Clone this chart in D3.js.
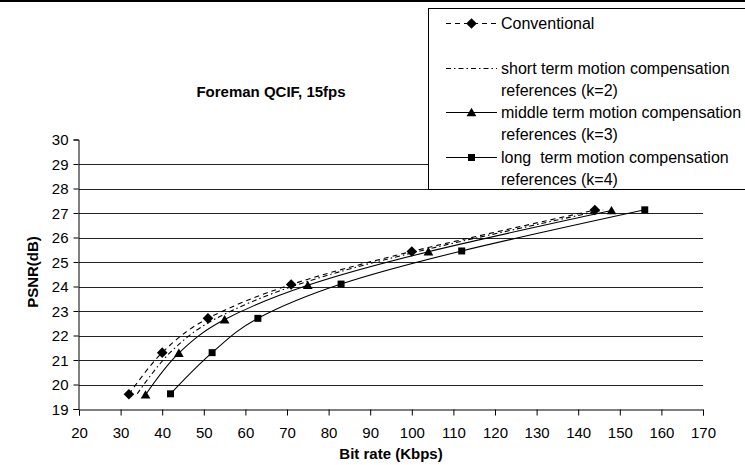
<!DOCTYPE html>
<html>
<head>
<meta charset="utf-8">
<script src="https://cdn.jsdelivr.net/npm/d3@7"></script>
<style>
  body { margin: 0; background: #fff; }
  svg text { font-family: "Liberation Sans", Arial, sans-serif; fill: #000; }
</style>
</head>
<body>
<div id="chart"></div>
<script>
// Foreman QCIF, 15fps - PSNR vs bit rate

// Data
const conventionalRate = [32, 40, 51, 71, 100, 144];
const conventionalPsnr = [19.6, 21.3, 22.7, 24.08, 25.43, 27.12];

const shortRate = [34, 42, 53, 73, 102, 146];
const shortPsnr = [19.62, 21.32, 22.7, 24.1, 25.45, 27.12];

const middleRate = [36, 44, 55, 75, 104, 148];
const middlePsnr = [19.58, 21.28, 22.65, 24.05, 25.42, 27.1];

const longRate = [42, 52, 63, 83, 112, 156];
const longPsnr = [19.62, 21.3, 22.7, 24.1, 25.45, 27.13];

const xTicks = [20, 30, 40, 50, 60, 70, 80, 90, 100, 110, 120, 130, 140, 150, 160, 170];
const yTicks = [19, 20, 21, 22, 23, 24, 25, 26, 27, 28, 29, 30];

const legendLabels = [
    ['Conventional'],
    ['short term motion compensation', 'references (k=2)'],
    ['middle term motion compensation', 'references (k=3)'],
    ['long  term motion compensation', 'references (k=4)']
];

const width = 745, height = 465;

const svg = d3.select('#chart').append('svg')
    .attr('width', width)
    .attr('height', height);

const x = d3.scaleLinear().domain([20, 170]).range([79, 703]);
const y = d3.scaleLinear().domain([19, 30]).range([409, 139.5]);

// frame line at the very top
svg.append('line')
    .attr('x1', 0).attr('x2', width)
    .attr('y1', 1).attr('y2', 1)
    .attr('stroke', '#000').attr('stroke-width', 2);

// gridlines
svg.append('g').selectAll('line')
    .data(yTicks.filter(d => d > 19 && d < 30))
    .enter().append('line')
    .attr('x1', x(20)).attr('x2', x(170))
    .attr('y1', d => Math.round(y(d)) + 0.5)
    .attr('y2', d => Math.round(y(d)) + 0.5)
    .attr('stroke', '#222').attr('stroke-width', 1);

// axes
const xAxis = d3.axisBottom(x).tickValues(xTicks).tickSize(6).tickPadding(12).tickFormat(d3.format('d'));
const yAxis = d3.axisLeft(y).tickValues(yTicks).tickSize(5).tickPadding(5).tickFormat(d3.format('d'));

const gx = svg.append('g').attr('transform', `translate(0,${y(19) + 0.5})`).call(xAxis);
const gy = svg.append('g').attr('transform', `translate(${x(20) - 0.5},0)`).call(yAxis);

[gx, gy].forEach(g => {
    g.select('.domain').attr('stroke', '#000');
    g.selectAll('.tick line').attr('stroke', '#000');
    g.selectAll('.tick text')
        .attr('font-size', '15px')
        .attr('font-family', '"Liberation Sans", Arial, sans-serif')
        .attr('fill', '#000');
});
gy.selectAll('.tick text').attr('dy', '0.35em');

// titles
svg.append('text')
    .attr('x', 271).attr('y', 97)
    .attr('text-anchor', 'middle')
    .attr('font-size', '15px').attr('font-weight', 'bold')
    .text('Foreman QCIF, 15fps');

svg.append('text')
    .attr('x', 391).attr('y', 459)
    .attr('text-anchor', 'middle')
    .attr('font-size', '15px').attr('font-weight', 'bold')
    .text('Bit rate (Kbps)');

svg.append('text')
    .attr('transform', 'translate(38,272) rotate(-90)')
    .attr('text-anchor', 'middle')
    .attr('font-size', '15px').attr('font-weight', 'bold')
    .text('PSNR(dB)');

// series
const series = [
    { rate: conventionalRate, psnr: conventionalPsnr, dash: '5,4', marker: 'diamond' },
    { rate: shortRate, psnr: shortPsnr, dash: '5,3,1.5,3', marker: null },
    { rate: middleRate, psnr: middlePsnr, dash: null, marker: 'triangle' },
    { rate: longRate, psnr: longPsnr, dash: null, marker: 'square' }
];

const line = d3.line()
    .x(d => x(d[0]))
    .y(d => y(d[1]))
    .curve(d3.curveCardinal.tension(0));

const symbols = {
    diamond: d3.symbol().type(d3.symbolDiamond2).size(72),
    triangle: d3.symbol().type(d3.symbolTriangle2).size(68),
    square: d3.symbol().type(d3.symbolSquare2).size(62)
};

function drawMarker(g, kind, cx, cy) {
    if (!kind) return;
    let path = symbols[kind]();
    let dy = kind === 'triangle' ? 1 : 0;
    g.append('path')
        .attr('d', path)
        .attr('transform', `translate(${cx},${cy + dy})`)
        .attr('fill', '#000');
}

series.forEach(s => {
    const pts = s.rate.map((r, i) => [r, s.psnr[i]]);
    svg.append('path')
        .datum(pts)
        .attr('d', line)
        .attr('fill', 'none')
        .attr('stroke', '#000')
        .attr('stroke-width', 1.1)
        .attr('stroke-dasharray', s.dash);
    const g = svg.append('g');
    pts.forEach(p => drawMarker(g, s.marker, x(p[0]), y(p[1])));
});

// legend
svg.append('rect')
    .attr('x', 428.5).attr('y', 8.5)
    .attr('width', 330).attr('height', 181)
    .attr('fill', '#fff')
    .attr('stroke', '#000').attr('stroke-width', 1);

const legendY = [23, 68, 112, 157];
const lineH = 22.5;
series.forEach((s, i) => {
    const ly = legendY[i];
    svg.append('line')
        .attr('x1', 446).attr('x2', 497)
        .attr('y1', ly + 0.5).attr('y2', ly + 0.5)
        .attr('stroke', '#000').attr('stroke-width', 1.1)
        .attr('stroke-dasharray', s.dash);
    drawMarker(svg, s.marker, 471.5, ly + 0.5);
    legendLabels[i].forEach((t, j) => {
        svg.append('text')
            .attr('x', 501).attr('y', ly + j * lineH)
            .attr('dy', '0.35em')
            .attr('font-size', '16px')
            .attr('xml:space', 'preserve')
            .style('white-space', 'pre')
            .text(t);
    });
});
</script>
</body>
</html>
